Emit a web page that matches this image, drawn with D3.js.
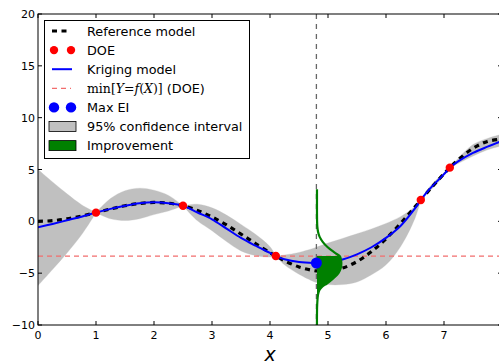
<!DOCTYPE html>
<html><head><meta charset="utf-8">
<script src="https://cdn.jsdelivr.net/npm/d3@7"></script>
<style>body{margin:0;background:#fff}svg{display:block}text{font-family:"DejaVu Sans",sans-serif}</style>
</head><body><svg id="c" width="499" height="363"></svg>
<script>
// ---- data ----
const xGrid = [0,0.25,0.5,0.75,1.0,1.25,1.5,1.75,2.0,2.25,2.5,2.75,3.0,3.25,3.5,3.75,4.0,4.1,4.25,4.5,4.75,4.8,5.0,5.25,5.5,5.75,6.0,6.25,6.5,6.6,6.75,7.0,7.1,7.25,7.5,7.75,8.0];
const referenceModel = [0,0.06,0.24,0.51,0.84,1.19,1.50,1.72,1.82,1.75,1.50,1.05,0.42,-0.35,-1.23,-2.14,-3.03,-3.35,-3.80,-4.40,-4.75,-4.78,-4.79,-4.51,-3.88,-2.92,-1.68,-0.21,1.40,2.06,3.04,4.60,5.18,5.97,7.04,7.71,7.92];
const krigingModel = [-0.58,-0.25,0.1,0.45,0.84,1.2,1.5,1.74,1.83,1.74,1.50,0.85,0.2,-0.7,-1.6,-2.35,-3.05,-3.35,-3.65,-3.92,-4.02,-4.02,-3.95,-3.68,-3.18,-2.5,-1.6,-0.45,1.25,2.06,3.1,4.55,5.18,5.8,6.6,7.2,7.75];
const ciUpper = [5.0,3.8,2.65,1.6,0.84,2.2,2.95,3.2,3.0,2.5,1.50,1.65,1.3,0.6,-0.3,-1.25,-2.45,-3.35,-3.25,-3.0,-2.6,-2.5,-2.1,-1.65,-1.2,-0.73,-0.2,0.45,1.42,2.06,3.3,4.7,5.18,6.1,7.4,8.0,8.4];
const ciLower = [-6.2,-4.65,-3.05,-1.3,0.84,0.25,0.08,0.25,0.65,1.0,1.50,0.05,-0.9,-1.95,-2.85,-3.3,-3.45,-3.35,-4.2,-5.1,-5.8,-5.9,-6.1,-6.1,-5.85,-5.15,-4.2,-2.45,0.3,2.06,2.9,4.4,5.18,5.6,6.3,6.9,7.3];
const doeX = [1.0, 2.5, 4.1, 6.6, 7.1];
const doeY = [0.84, 1.50, -3.35, 2.06, 5.18];
const minDOE = -3.35;
const maxEIX = [4.8];
const maxEIY = [-4.02];
const improvementBase = 4.81;
const improvementY = [3.1,2,1,0,-0.5,-1,-1.5,-2,-2.5,-3,-3.35,-3.5,-4,-4.5,-5,-5.5,-6,-6.3,-6.6,-7,-8,-9,-10.5];
const improvementOffset = [0,0,0,0.002,0.006,0.018,0.046,0.102,0.185,0.3,0.39,0.405,0.42,0.41,0.37,0.28,0.17,0.09,0.045,0.02,0.004,0,0];
const xTicks = [0,1,2,3,4,5,6,7,8];
const xTickLabels = ["0","1","2","3","4","5","6","7",""];
const yTicks = [-10,-5,0,5,10,15,20];
const legendLabels = ["Reference model","DOE","Kriging model","MIN","Max EI","95% confidence interval","Improvement"];

// ---- layout ----
const svg = d3.select("#c");
const L = 38, R = 502, T = 14, B = 325;
const x = d3.scaleLinear().domain([0,8]).range([L,R]);
const y = d3.scaleLinear().domain([-10,20]).range([B,T]);

svg.append("defs").append("clipPath").attr("id","clip")
  .append("rect").attr("x",L).attr("y",T).attr("width",R-L).attr("height",B-T);
const g = svg.append("g").attr("clip-path","url(#clip)");

const idx = d3.range(xGrid.length);
const curve = d3.curveCatmullRom.alpha(0.5);

// confidence band, drawn piecewise between DOE points so the pinches stay sharp
const cuts = [0, ...doeX.map(v => xGrid.indexOf(v)), xGrid.length - 1];
const bandArea = d3.area().curve(d3.curveCatmullRom.alpha(0.5))
  .x(i=>x(xGrid[i])).y0(i=>y(ciLower[i])).y1(i=>y(ciUpper[i]));
for (let k = 0; k < cuts.length - 1; k++) {
  g.append("path").datum(d3.range(cuts[k], cuts[k+1] + 1))
    .attr("d", bandArea).attr("fill","#c0c0c0").attr("stroke","#c0c0c0").attr("stroke-width",0.3);
}

// min DOE line
g.append("line").attr("x1",L).attr("x2",R).attr("y1",y(minDOE)).attr("y2",y(minDOE))
  .attr("stroke","#f26d6d").attr("stroke-width",1.3).attr("stroke-dasharray","5,4");

// vertical line at max EI
g.append("line").attr("x1",x(maxEIX[0])).attr("x2",x(maxEIX[0])).attr("y1",T).attr("y2",B)
  .attr("stroke","#666").attr("stroke-width",1.3).attr("stroke-dasharray","5,5");

// reference model
g.append("path").datum(idx)
  .attr("d", d3.line().curve(curve).x(i=>x(xGrid[i])).y(i=>y(referenceModel[i])))
  .attr("fill","none").attr("stroke","#000").attr("stroke-width",3.2).attr("stroke-dasharray","5,4.5");

// kriging model
g.append("path").datum(idx)
  .attr("d", d3.line().curve(curve).x(i=>x(xGrid[i])).y(i=>y(krigingModel[i])))
  .attr("fill","none").attr("stroke","#0000ff").attr("stroke-width",2);

// DOE points
g.selectAll("circle.doe").data(d3.range(doeX.length)).join("circle")
  .attr("cx",i=>x(doeX[i])).attr("cy",i=>y(doeY[i])).attr("r",4.2).attr("fill","#ff0000");

// improvement
const impIdx = d3.range(improvementY.length);
const fillIdx = impIdx.filter(i=>improvementY[i] <= minDOE);
g.append("path").datum(fillIdx)
  .attr("d", d3.area().curve(d3.curveCatmullRom).y(i=>y(improvementY[i]))
    .x0(x(improvementBase)).x1(i=>x(improvementBase+improvementOffset[i])))
  .attr("fill","#008000");
g.append("path").datum(impIdx)
  .attr("d", d3.line().curve(d3.curveCatmullRom).y(i=>y(improvementY[i])).x(i=>x(improvementBase+improvementOffset[i])))
  .attr("fill","none").attr("stroke","#008000").attr("stroke-width",2.2);

// max EI point
g.selectAll("circle.ei").data(d3.range(maxEIX.length)).join("circle")
  .attr("cx",i=>x(maxEIX[i])).attr("cy",i=>y(maxEIY[i])).attr("r",5.5).attr("fill","#0000ff");

// ---- axes (inward ticks on all four sides) ----
const tickLen = 4;
const ax = svg.append("g");
ax.append("rect").attr("x",L).attr("y",T).attr("width",R-L).attr("height",B-T)
  .attr("fill","none").attr("stroke","#000").attr("stroke-width",1);
xTicks.forEach((t,i)=>{
  ax.append("line").attr("x1",x(t)).attr("x2",x(t)).attr("y1",B).attr("y2",B-tickLen).attr("stroke","#000");
  ax.append("line").attr("x1",x(t)).attr("x2",x(t)).attr("y1",T).attr("y2",T+tickLen).attr("stroke","#000");
  ax.append("text").attr("x",x(t)).attr("y",B+13.5).attr("text-anchor","middle")
    .attr("font-size",11).text(xTickLabels[i]);
});
yTicks.forEach(t=>{
  ax.append("line").attr("x1",L).attr("x2",L+tickLen).attr("y1",y(t)).attr("y2",y(t)).attr("stroke","#000");
  ax.append("line").attr("x1",R).attr("x2",R-tickLen).attr("y1",y(t)).attr("y2",y(t)).attr("stroke","#000");
  ax.append("text").attr("x",L-3).attr("y",y(t)+4).attr("text-anchor","end")
    .attr("font-size",11).text(t<0 ? "\u2212"+Math.abs(t) : String(t));
});
ax.append("text").attr("x",(L+R)/2).attr("y",360.5).attr("text-anchor","middle")
  .attr("font-family","'Liberation Serif',serif").attr("font-style","italic").attr("font-size",19).text("x");

// ---- legend ----
const lg = svg.append("g");
lg.append("rect").attr("x",44.5).attr("y",20.5).attr("width",205).attr("height",138)
  .attr("fill","#fff").attr("stroke","#000").attr("stroke-width",1);
const rowY = i => 31 + i*19.1;
const tx = 87;
lg.append("line").attr("x1",52).attr("x2",71).attr("y1",rowY(0)).attr("y2",rowY(0))
  .attr("stroke","#000").attr("stroke-width",3.2).attr("stroke-dasharray","5,4.5");
[54,71].forEach(cx=>lg.append("circle").attr("cx",cx).attr("cy",rowY(1)).attr("r",4.2).attr("fill","#ff0000"));
lg.append("line").attr("x1",52).attr("x2",72).attr("y1",rowY(2)).attr("y2",rowY(2))
  .attr("stroke","#0000ff").attr("stroke-width",2);
lg.append("line").attr("x1",52).attr("x2",71).attr("y1",rowY(3)).attr("y2",rowY(3))
  .attr("stroke","#f26d6d").attr("stroke-width",1.3).attr("stroke-dasharray","5,4");
[54,71].forEach(cx=>lg.append("circle").attr("cx",cx).attr("cy",rowY(4)).attr("r",5.2).attr("fill","#0000ff"));
lg.append("rect").attr("x",49).attr("y",rowY(5)-5).attr("width",27).attr("height",10)
  .attr("fill","#c0c0c0").attr("stroke","#000").attr("stroke-width",0.8);
lg.append("rect").attr("x",49).attr("y",rowY(6)-5).attr("width",27).attr("height",10)
  .attr("fill","#008000").attr("stroke","#000").attr("stroke-width",0.8);

legendLabels.forEach((lab,i)=>{
  const t = lg.append("text").attr("x",tx).attr("y",rowY(i)+4.5).attr("font-size",12.8);
  if (lab === "MIN") {
    const sf = "'DejaVu Serif','Liberation Serif',serif";
    const parts = [["min[",false],["Y",true],["=",false],["f",true],["(",false],["X",true],[")]",false]];
    parts.forEach(p=>t.append("tspan").attr("font-family",sf).attr("font-size",12.5)
      .attr("font-style",p[1]?"italic":"normal").text(p[0]));
    t.append("tspan").text(" (DOE)");
  } else t.text(lab);
});
</script></body></html>
